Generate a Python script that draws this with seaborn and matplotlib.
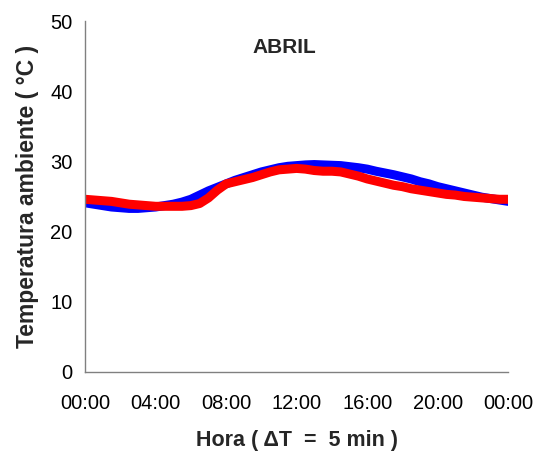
import numpy as np
import pandas as pd
import matplotlib
matplotlib.use("Agg")
import matplotlib.pyplot as plt
import seaborn as sns

# Hours of the day, every 30 minutes
hours = [i * 0.5 for i in range(49)]

# Modelled ambient temperature (blue) and measured temperature (red), °C
modelo = [24.1, 23.9, 23.7, 23.5, 23.4, 23.3, 23.3, 23.4, 23.5, 23.7,
          23.9, 24.2, 24.6, 25.2, 25.8, 26.3, 26.8, 27.3, 27.7, 28.1,
          28.5, 28.8, 29.1, 29.3, 29.4, 29.5, 29.55, 29.5, 29.45, 29.4,
          29.25, 29.1, 28.9, 28.6, 28.35, 28.1, 27.8, 27.5, 27.1, 26.8,
          26.4, 26.1, 25.8, 25.5, 25.2, 24.9, 24.7, 24.5, 24.3]
medido = [24.6, 24.5, 24.4, 24.3, 24.1, 23.9, 23.8, 23.7, 23.6, 23.6,
          23.6, 23.6, 23.7, 24.0, 24.8, 25.9, 26.8, 27.1, 27.4, 27.7,
          28.1, 28.5, 28.8, 28.9, 29.0, 28.9, 28.7, 28.6, 28.6, 28.5,
          28.2, 27.9, 27.5, 27.2, 26.9, 26.6, 26.4, 26.1, 25.9, 25.7,
          25.5, 25.3, 25.2, 25.0, 24.9, 24.8, 24.7, 24.6, 24.6]

xticks = [0, 4, 8, 12, 16, 20, 24]
xticklabels = ["00:00", "04:00", "08:00", "12:00", "16:00", "20:00", "00:00"]
yticks = [0, 10, 20, 30, 40, 50]

df = pd.DataFrame({
    "hora": hours * 2,
    "temp": modelo + medido,
    "serie": ["modelo"] * len(hours) + ["medido"] * len(hours),
})

sns.set_style("white")
plt.rcParams["font.family"] = ["Liberation Sans", "DejaVu Sans"]

fig = plt.figure(figsize=(5.35, 4.58), dpi=100)
ax = fig.add_axes([0.159, 0.188, 0.791, 0.766])

sns.lineplot(data=df, x="hora", y="temp", hue="serie",
             palette={"modelo": "#0000ff", "medido": "#ff0000"},
             linewidth=6.5, legend=False, ax=ax, solid_capstyle="round")

ax.set_xlim(0, 24)
ax.set_ylim(0, 50)
ax.set_xticks(xticks)
ax.set_xticklabels(xticklabels)
ax.set_yticks(yticks)
ax.tick_params(axis="both", direction="out", length=5, width=1,
               color="#808080", labelsize=14.5, colors="black")
ax.tick_params(axis="x", pad=11)
ax.tick_params(axis="y", pad=4)

for side in ("top", "right"):
    ax.spines[side].set_visible(False)
for side in ("left", "bottom"):
    ax.spines[side].set_color("#808080")
    ax.spines[side].set_linewidth(1)

ax.set_xlabel("Hora ( \u0394T  =  5 min )", fontsize=15.5, fontweight="bold", labelpad=12)
ax.set_ylabel("Temperatura ambiente ( °C )", fontsize=16.5, fontweight="bold", labelpad=8)
ax.text(0.47, 0.925, "ABRIL", transform=ax.transAxes, ha="center", va="center",
        fontsize=15, fontweight="bold")

fig.savefig("out.png", dpi=100)
